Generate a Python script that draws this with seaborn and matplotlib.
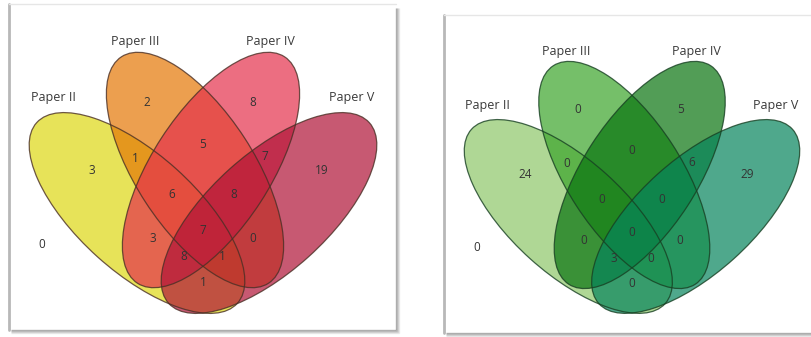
import matplotlib
matplotlib.use("Agg")
import matplotlib.pyplot as plt
from matplotlib.patches import Ellipse, Rectangle
import seaborn as sns

# ---- data -------------------------------------------------------------
set_names = ["Paper II", "Paper III", "Paper IV", "Paper V"]
# region keys: membership in (II, III, IV, V)
region_keys = ["0000", "1000", "0100", "0010", "0001",
               "1100", "0110", "0011", "1110", "0111",
               "1010", "0101", "1111", "1011", "1101", "1001"]
counts_left = [0, 3, 2, 8, 19, 1, 5, 7, 6, 8, 3, 0, 7, 8, 1, 1]
counts_right = [0, 24, 0, 5, 29, 0, 0, 6, 0, 0, 0, 0, 0, 3, 0, 0]

colors_left = ["#ded813", "#e47705", "#e4304c", "#b01337"]
colors_right = ["#8dc669", "#3ba52a", "#08740f", "#05845b"]

# ---- layout (pixel units of a reference panel, y grows downwards) ------
AXIS_X, BASE_Y = 203.0, 312.0
ellipses = [  # cx, cy, width, height, angle
    (137, 213, 270, 118, 42),
    (195, 170, 270, 118, 57),
    (211, 170, 270, 118, -57),
    (269, 213, 270, 118, -42),
]
label_pos = [(53, 98), (135, 42), (270, 42), (352, 98)]
region_pos = {
    "0000": (42, 245), "1000": (92, 170), "0100": (147, 102), "0010": (253, 102),
    "0001": (322, 170), "1100": (135, 158), "0110": (203, 145), "0011": (265, 157),
    "1110": (172, 195), "0111": (234, 195), "1010": (153, 238), "0101": (253, 238),
    "1111": (203, 230), "1011": (184, 257), "1101": (222, 257), "1001": (203, 282),
}

sns.set_theme(style="white")
plt.rcParams["font.family"] = ["Open Sans", "DejaVu Sans"]

W, H = 812, 337
fig = plt.figure(figsize=(W / 100, H / 100), dpi=100)
ax = fig.add_axes([0, 0, 1, 1])
ax.set_xlim(0, W)
ax.set_ylim(H, 0)
ax.axis("off")


def frame(x0, y0, x1, y1):
    ax.add_patch(Rectangle((x0, y0), x1 - x0, y1 - y0, facecolor="white",
                           edgecolor="none", zorder=0))
    # soft drop shadow on the right and bottom
    for i, a in enumerate([0.55, 0.4, 0.25, 0.12]):
        ax.plot([x1 + i, x1 + i], [y0 + 4, y1 + i], color="0.45", alpha=a,
                lw=1, solid_capstyle="butt", zorder=1)
        ax.plot([x0 + 2, x1 + i], [y1 + i, y1 + i], color="0.45", alpha=a,
                lw=1, solid_capstyle="butt", zorder=1)
    ax.plot([x0, x0], [y0, y1], color="0.72", lw=2, zorder=1)
    ax.plot([x0, x1], [y0, y0], color="0.9", lw=1, zorder=1)


def venn(ox, oy, s, counts, colors, edge):
    tx = lambda x: ox + (x - AXIS_X) * s
    ty = lambda y: oy + (y - BASE_Y) * s
    for (cx, cy, w, h, ang), c in zip(ellipses, colors):
        ax.add_patch(Ellipse((tx(cx), ty(cy)), w * s, h * s, angle=ang,
                             facecolor=c, alpha=0.7, edgecolor="none", zorder=2))
    for (cx, cy, w, h, ang) in ellipses:
        ax.add_patch(Ellipse((tx(cx), ty(cy)), w * s, h * s, angle=ang,
                             facecolor="none", edgecolor=edge, lw=0.9,
                             alpha=0.8, zorder=3))
    for key, n in zip(region_keys, counts):
        x, y = region_pos[key]
        ax.text(tx(x), ty(y), str(n), ha="center", va="center",
                fontsize=8.5, color="#333333", zorder=4)
    for (x, y), name in zip(label_pos, set_names):
        ax.text(tx(x), ty(y), name, ha="center", va="center",
                fontsize=9, color="#3a3a3a", zorder=4)


frame(9, 4, 396, 330)
frame(444, 15, 830, 333)
venn(203, 312, 1.0, counts_left, colors_left, "#4a2f25")
venn(632, 312, 0.965, counts_right, colors_right, "#173f22")

fig.savefig("out.png", dpi=100)
